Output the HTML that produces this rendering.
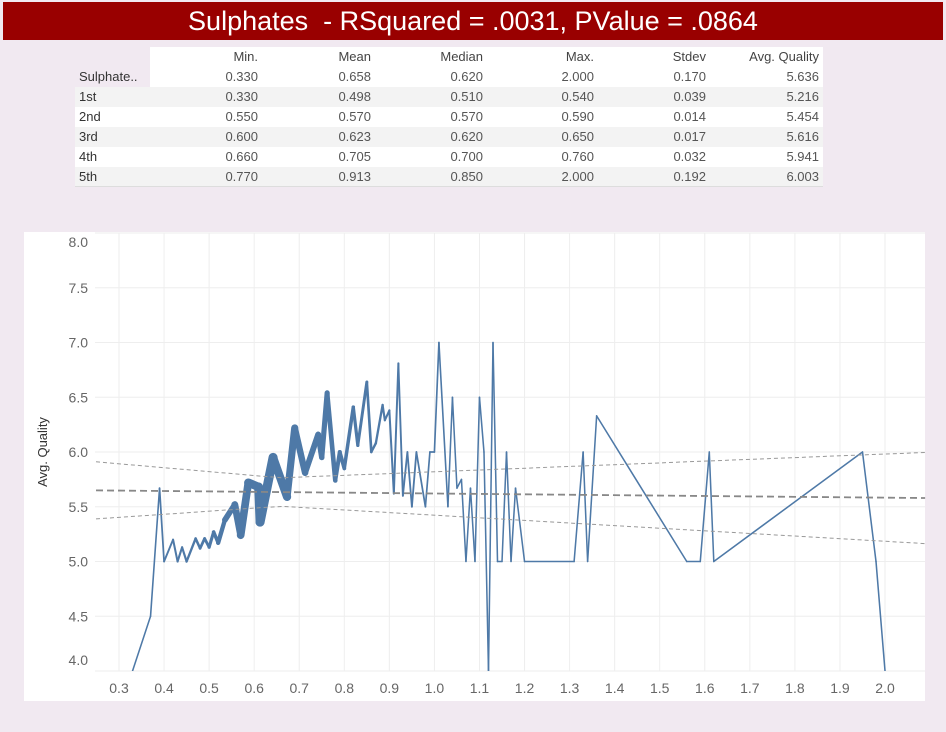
<!DOCTYPE html>
<html><head><meta charset="utf-8">
<style>
body{margin:0;width:946px;height:732px;background:#f1e9f1;font-family:"Liberation Sans",sans-serif;overflow:hidden;position:relative}
#title{position:absolute;left:3px;top:2px;width:940px;height:38px;background:#990000;color:#fff;font-size:27px;line-height:38px;text-align:center}
#tbl{position:absolute;left:0;top:0}
.c{position:absolute;font-size:13px;color:#555;text-align:right;width:100px;line-height:20px}
.l{position:absolute;font-size:13px;color:#333;line-height:20px;left:79px}
</style></head><body>
<div id="title">Sulphates&nbsp; - RSquared = .0031, PValue = .0864</div>
<div id="tbl"></div>
<svg id="chart" width="946" height="732" style="position:absolute;left:0;top:0"></svg>
<script>
const cols=["Min.","Mean","Median","Max.","Stdev","Avg. Quality"];
const rowLabels=["Sulphate..","1st","2nd","3rd","4th","5th"];
const tableVals=[
["0.330","0.658","0.620","2.000","0.170","5.636"],
["0.330","0.498","0.510","0.540","0.039","5.216"],
["0.550","0.570","0.570","0.590","0.014","5.454"],
["0.600","0.623","0.620","0.650","0.017","5.616"],
["0.660","0.705","0.700","0.760","0.032","5.941"],
["0.770","0.913","0.850","2.000","0.192","6.003"]];
const colRight=[258,371,483,594,706,819];
const tbl=document.getElementById('tbl');
function div(cls,css,txt){const d=document.createElement('div');d.className=cls;d.style.cssText=css;d.textContent=txt;tbl.appendChild(d);return d;}
const bg1=div('', 'position:absolute;left:150px;top:47px;width:673px;height:20px;background:#fff;border-bottom:1px solid #ddd','');


for(let r=0;r<6;r++){
 const bg=div('',`position:absolute;left:${r==0?150:75}px;top:${67+r*20}px;width:${r==0?673:748}px;height:20px;background:${r%2==0?'#fff':'#f3f3f3'}`,'');
 
 
}
const bl=div('','position:absolute;left:75px;top:186px;width:748px;height:1px;background:#ddd','');
cols.forEach((c,i)=>{const d=div('c',`left:${colRight[i]-100}px;top:47px;color:#444`,c);
 
 });
rowLabels.forEach((lab,r)=>{const d=div('l',`top:${67+r*20}px`,lab);
 
 
 tableVals[r].forEach((v,i)=>{const e=div('c',`left:${colRight[i]-100}px;top:${67+r*20}px`,v);
  
  });});

// chart data
const sulphates=[0.33,0.37,0.39,0.40,0.42,0.43,0.44,0.45,0.47,0.48,0.49,0.50,0.51,0.52,0.535,0.557,0.57,0.587,0.61,0.613,0.642,0.673,0.69,0.713,0.742,0.75,0.762,0.78,0.79,0.80,0.82,0.83,0.85,0.86,0.87,0.885,0.89,0.90,0.91,0.92,0.93,0.94,0.95,0.96,0.98,0.99,1.00,1.01,1.03,1.04,1.05,1.06,1.07,1.08,1.09,1.10,1.11,1.12,1.13,1.14,1.15,1.16,1.17,1.18,1.20,1.31,1.33,1.34,1.36,1.56,1.59,1.61,1.62,1.95,1.98,2.00];
const avgQuality=[4.0,4.5,5.67,5.0,5.2,5.0,5.13,5.0,5.21,5.12,5.21,5.13,5.27,5.17,5.38,5.52,5.24,5.72,5.68,5.36,5.95,5.59,6.22,5.81,6.16,5.95,6.54,5.74,6.0,5.85,6.41,6.06,6.64,6.0,6.08,6.43,6.29,6.38,5.62,6.81,5.6,6.0,5.5,6.0,5.5,6.0,6.0,7.0,5.5,6.5,5.67,5.75,5.0,5.67,5.0,6.5,6.0,4.0,7.0,5.0,5.0,6.0,5.0,5.67,5.0,5.0,6.0,5.0,6.33,5.0,5.0,6.0,5.0,6.0,5.0,4.0];
const counts=[1,1,2,3,4,5,5,6,8,9,10,11,14,16,26,36,42,48,52,56,54,44,38,34,30,28,26,20,18,16,14,12,10,8,7,6,5,5,4,4,3,3,3,3,2,2,2,2,1,1,1,1,1,1,1,1,1,1,1,1,1,1,1,1,1,1,1,1,1,1,1,1,1,1,1,1];
const xTicks=[0.3,0.4,0.5,0.6,0.7,0.8,0.9,1.0,1.1,1.2,1.3,1.4,1.5,1.6,1.7,1.8,1.9,2.0];
const yTicks=[4.0,4.5,5.0,5.5,6.0,6.5,7.0,7.5,8.0];
const trendIntercept=5.659, trendSlope=-0.038;

const X=v=>119+(v-0.3)*450.6;
const Y=v=>452-(v-6)*109.5;
const svg=document.getElementById('chart');
const NS='http://www.w3.org/2000/svg';
function el(t,a){const e=document.createElementNS(NS,t);for(const k in a)e.setAttribute(k,a[k]);svg.appendChild(e);return e;}
const box=el('rect',{x:24,y:232,width:901,height:469,fill:'#fff'});


const clip=document.createElementNS(NS,'clipPath');clip.id='cp';
const cr=document.createElementNS(NS,'rect');cr.setAttribute('x',95);cr.setAttribute('y',233);cr.setAttribute('width',830);cr.setAttribute('height',438);
clip.appendChild(cr);svg.appendChild(clip);
xTicks.forEach(t=>{const g=el('line',{x1:X(t),x2:X(t),y1:233,y2:671,stroke:'#eeeeee'});
 
 
 const l=el('text',{x:X(t),y:693,'text-anchor':'middle','font-size':14,fill:'#666','font-family':'Liberation Sans, sans-serif'});l.textContent=t.toFixed(1);
 
 });
yTicks.forEach(t=>{const g=el('line',{x1:95,x2:925,y1:Y(t),y2:Y(t),stroke:'#eeeeee'});
 
 
 let ly=Y(t)+5;ly=Math.max(247,Math.min(665,ly));
 const l=el('text',{x:88,y:ly,'text-anchor':'end','font-size':14,fill:'#666','font-family':'Liberation Sans, sans-serif'});l.textContent=t.toFixed(1);
 
 });
const yt=el('text',{x:0,y:0,transform:'translate(47,452) rotate(-90)','text-anchor':'middle','font-size':13,fill:'#333','font-family':'Liberation Sans, sans-serif'});yt.textContent='Avg. Quality';


// line segments
for(let i=0;i<sulphates.length-1;i++){
 const w=1.4+Math.min(8,((counts[i]+counts[i+1])/2)*0.14);
 const s=el('line',{x1:X(sulphates[i]),y1:Y(avgQuality[i]),x2:X(sulphates[i+1]),y2:Y(avgQuality[i+1]),stroke:'#4e79a7','stroke-width':w,'stroke-linecap':'round','clip-path':'url(#cp)'});
 
 
}
// trend + bands
const x0=0.249,x1=2.089;
const tl=el('line',{x1:X(x0),x2:X(x1),y1:Y(trendIntercept+trendSlope*x0),y2:Y(trendIntercept+trendSlope*x1),stroke:'#888','stroke-width':1.8,'stroke-dasharray':'7,4'});


[1,-1].forEach(sg=>{let d='';for(let k=0;k<=40;k++){const v=x0+(x1-x0)*k/40;const hw=0.13+0.2*Math.abs(v-0.658)+(v<0.658?0.12*(0.658-v):0);
 d+=(k?'L':'M')+X(v).toFixed(1)+','+Y(trendIntercept+trendSlope*v+sg*hw).toFixed(1);}
 const p=el('path',{d:d,fill:'none',stroke:'#999','stroke-width':1,'stroke-dasharray':'4,3'});
 
 });
</script>
</body></html>
